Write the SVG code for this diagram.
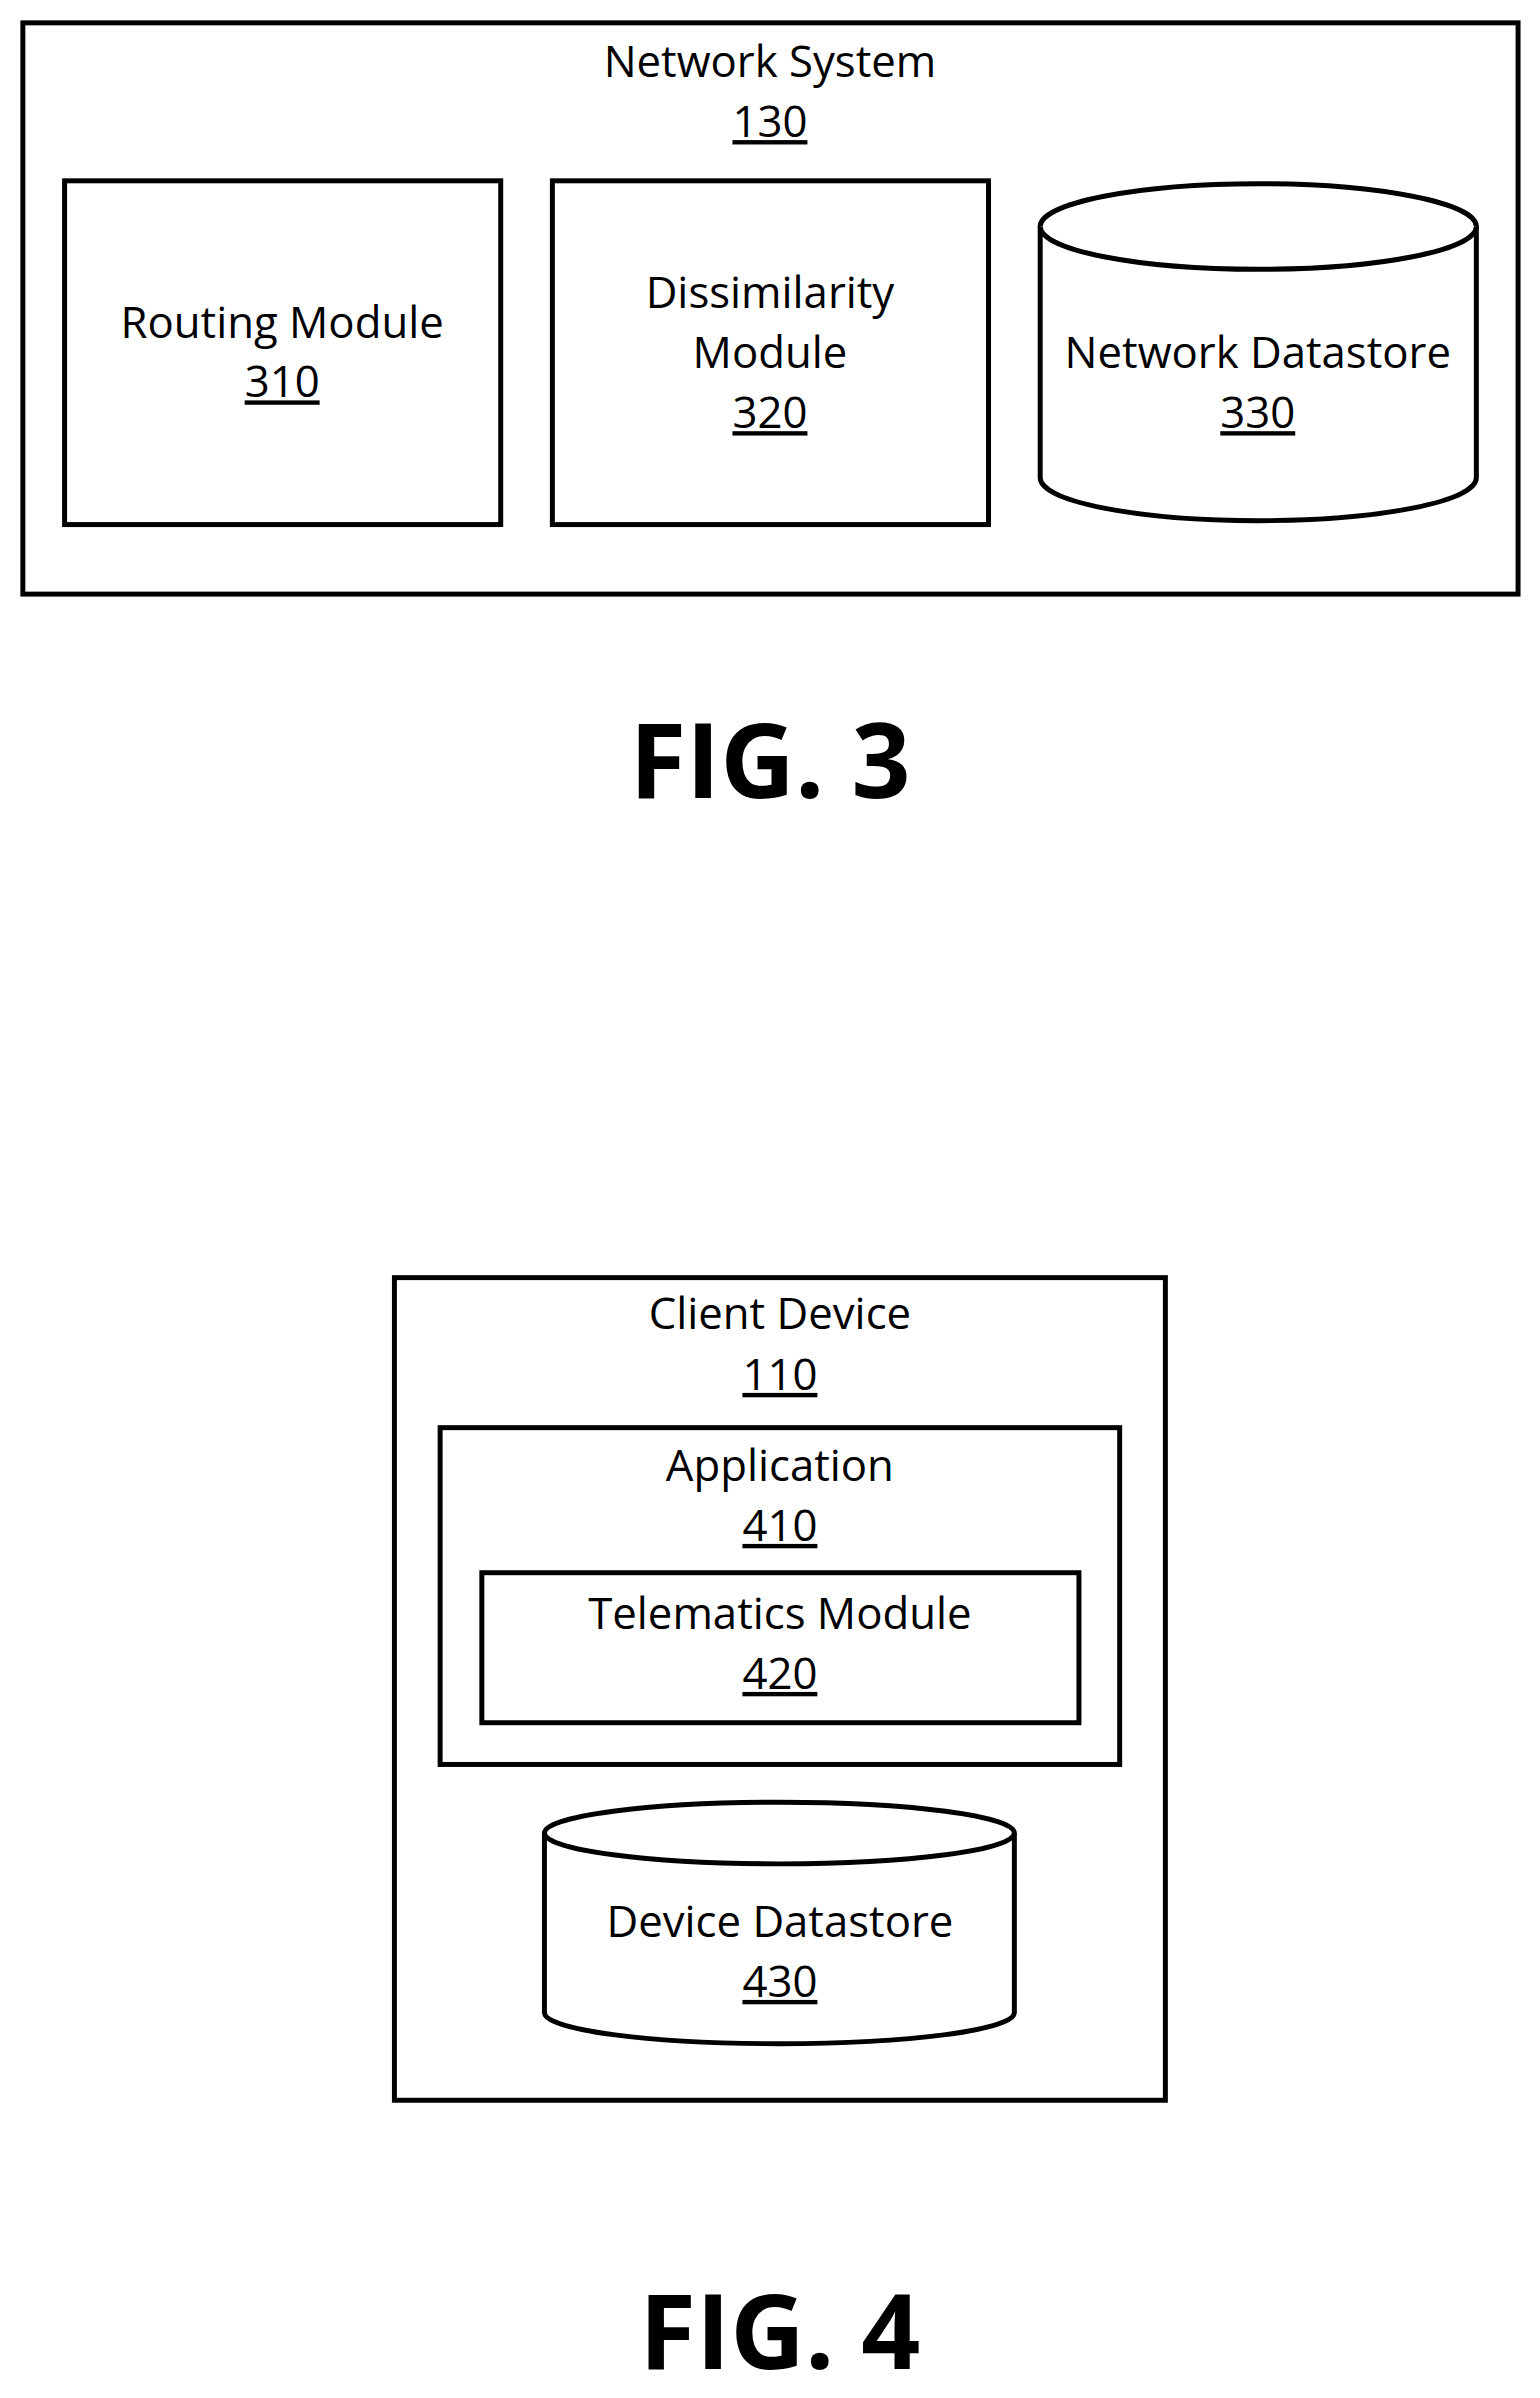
<svg xmlns="http://www.w3.org/2000/svg" width="1540" height="2398" viewBox="0 0 1540 2398">
<style>
.b{fill:#fff;stroke:#000;stroke-width:5}
.t{font-family:"Open Sans","Liberation Sans",sans-serif;font-size:44px;text-anchor:middle;fill:#000}
.u{text-decoration:underline}
.f{font-family:"Open Sans","Liberation Sans",sans-serif;font-size:104px;font-weight:bold;text-anchor:middle}
</style>
<rect width="1540" height="2398" fill="#fff"/>
<g transform="scale(0.9935)">
<g id="network-system"><rect class="b" x="23" y="23" width="1505" height="575"/>
<text class="t" x="775" y="78">Network System</text><text class="t u" x="775" y="138">130</text></g>
<g id="routing"><rect class="b" x="65" y="182" width="439" height="346"/>
<text class="t" x="284" y="340">Routing Module</text><text class="t u" x="284" y="400">310</text></g>
<g id="dissimilarity"><rect class="b" x="556" y="182" width="439" height="346"/>
<text class="t" x="775" y="310">Dissimilarity</text><text class="t" x="775" y="370">Module</text><text class="t u" x="775" y="431">320</text></g>
<g id="network-datastore"><path class="b" d="M1047 228 A219 43 0 0 1 1486 228 V481 A219 43 0 0 1 1047 481 Z"/><path class="b" fill="none" d="M1047 228 A219 43 0 0 0 1486 228"/>
<text class="t" x="1266" y="370">Network Datastore</text><text class="t u" x="1266" y="431">330</text></g>
<text class="f" x="775" y="803">FIG. 3</text>
<g id="client-device"><rect class="b" x="397" y="1286" width="776" height="828"/>
<text class="t" x="785" y="1338">Client Device</text><text class="t u" x="785" y="1399">110</text></g>
<g id="application"><rect class="b" x="443" y="1437" width="684" height="339"/>
<text class="t" x="785" y="1491">Application</text><text class="t u" x="785" y="1551">410</text></g>
<g id="telematics"><rect class="b" x="485" y="1583" width="601" height="151" stroke-width="6"/>
<text class="t" x="785" y="1640">Telematics Module</text><text class="t u" x="785" y="1700">420</text></g>
<g id="device-datastore"><path class="b" d="M548 1845 A236 31 0 0 1 1021 1845 V2026 A236 31 0 0 1 548 2026 Z"/><path class="b" fill="none" d="M548 1845 A236 31 0 0 0 1021 1845"/>
<text class="t" x="785" y="1950">Device Datastore</text><text class="t u" x="785" y="2010">430</text></g>
<text class="f" x="785" y="2384">FIG. 4</text>
<g id="connectors"/>
</g>
</svg>
